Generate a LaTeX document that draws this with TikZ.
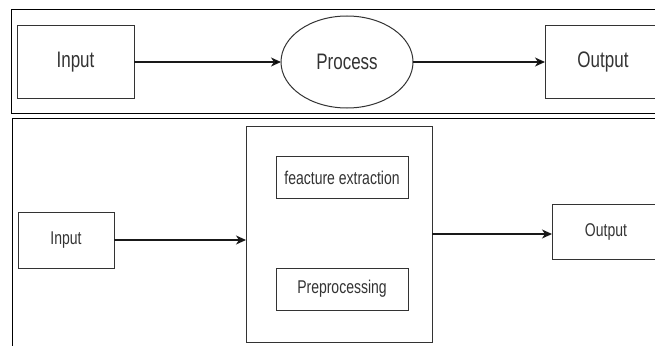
\documentclass[tikz,border=0pt]{standalone}
\usepackage{graphicx}
\usepackage{fontspec}
\setmainfont{Liberation Sans}
\usetikzlibrary{positioning,shapes.geometric,arrows.meta}
\newcommand*\tall[1]{\scalebox{1}[1.32]{#1}}

\begin{document}
\begin{tikzpicture}[
      x=1pt, y=-1pt,
      >={Stealth[length=10pt,width=9pt,inset=3pt]},
      line width=1pt,
      block/.style={draw=black!80, text=black!80, inner sep=0pt, outer sep=0pt},
      stage/.style={block, font=\fontsize{17}{20}\selectfont},
      substage/.style={block, font=\fontsize{14}{17}\selectfont},
      panel/.style={draw=black, line width=1pt},
      flow/.style={->, draw=black!90, line width=1.2pt},
    ]
  \clip (0,0) rectangle (655,345);
  % the two panels, cut at the right and bottom
  \draw[panel] (11,10) rectangle (690,113);
  \draw[panel] (12,118) rectangle (690,390);

  % top: simple model
  \node[stage, minimum width=117pt, minimum height=72pt] (input) at (75.5,62) {\tall{Input}};
  \node[stage, ellipse, minimum width=132pt, minimum height=92pt] (process) at (347,62) {\tall{Process}};
  \node[stage, minimum width=116pt, minimum height=72pt] (output) at (603,62) {\tall{Output}};

  % bottom: detailed model
  \node[substage, minimum width=96pt, minimum height=56pt] (input2) at (66,240) {\tall{Input}};
  \node[block, minimum width=186pt, minimum height=216pt] (model) at (339,234) {};
  \node[substage, minimum width=132pt, minimum height=42pt] (feat) at (342,177.5) {\tall{feacture extraction}};
  \node[substage, minimum width=132pt, minimum height=42pt] (prep) at (342,289) {\tall{Preprocessing}};
  \node[substage, minimum width=108pt, minimum height=55pt] (output2) at (606,231.5) {\tall{Output}};

  \path[flow]
      (input) edge (process)
      (process) edge (output);
  \draw[flow] (input2.east) -- (input2.east -| model.west);
  \draw[flow] (model.east) -- (model.east -| output2.west);
\end{tikzpicture}
\end{document}
